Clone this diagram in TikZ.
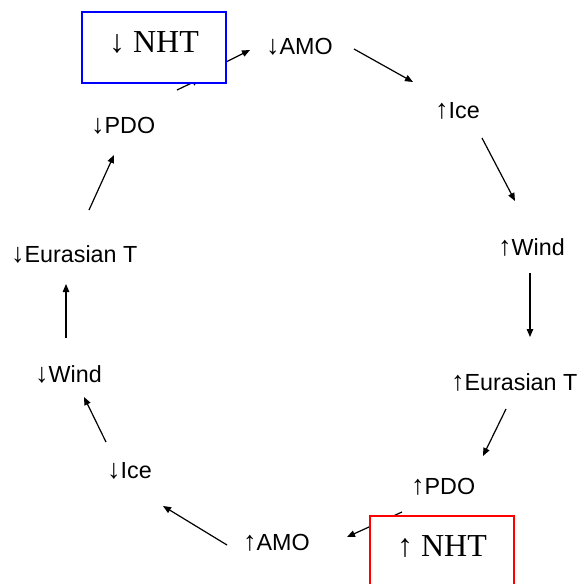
\documentclass[tikz,border=0pt]{standalone}
\usepackage{fontspec}
\setmainfont{Liberation Sans}
\newfontfamily\boxfont{Liberation Serif}
\newcommand\arrdn{{\boxfont\fontsize{27}{27}\selectfont ↓}}
\newcommand\arrup{{\boxfont\fontsize{27}{27}\selectfont ↑}}
\usetikzlibrary{arrows.meta}
\begin{document}
\begin{tikzpicture}[x=1pt,y=-1pt,
  lbl/.style={anchor=base west,inner sep=0pt,font=\fontsize{23.3}{27}\selectfont},
  flow/.style={line width=1.2pt,-{Triangle[length=8pt,width=6.5pt]}},
  statebox/.style={draw,line width=2pt,fill=white,minimum width=144pt,
    inner sep=0pt,text height=40pt,text depth=31pt,
    font=\boxfont\fontsize{32}{36}\selectfont}]
\useasboundingbox (0,0) rectangle (578,584);
\clip (0,0) rectangle (578,584);

% cycle labels
\node[lbl] (amoD)  at (266,54)  {\arrdn AMO};
\node[lbl] (iceU)  at (435,118) {\arrup Ice};
\node[lbl] (windU) at (498,255) {\arrup Wind};
\node[lbl] (eurU)  at (451,390) {\arrup Eurasian T};
\node[lbl] (pdoU)  at (411,494) {\arrup PDO};
\node[lbl] (amoU)  at (243,550) {\arrup AMO};
\node[lbl] (iceD)  at (107,478) {\arrdn Ice};
\node[lbl] (windD) at (35,382)  {\arrdn Wind};
\node[lbl] (eurD)  at (11,262)  {\arrdn Eurasian T};
\node[lbl] (pdoD)  at (91,133)  {\arrdn PDO};

% connector end points
\coordinate (c1a) at (226,62);  \coordinate (c1b) at (250,50);
\coordinate (c2a) at (354,49);  \coordinate (c2b) at (413,82);
\coordinate (c3a) at (482,138); \coordinate (c3b) at (515,201);
\coordinate (c4a) at (530,273); \coordinate (c4b) at (530,337);
\coordinate (c5a) at (506,409); \coordinate (c5b) at (483,456);
\coordinate (c6a) at (402,512); \coordinate (c6b) at (347,537);
\coordinate (c7a) at (227,545); \coordinate (c7b) at (163,506);
\coordinate (c8a) at (106,442); \coordinate (c8b) at (84,397);
\coordinate (c9a) at (66,338);  \coordinate (c9b) at (66,284);
\coordinate (c10a) at (89,210); \coordinate (c10b) at (114,155);
\coordinate (c11a) at (177,90); \coordinate (c11b) at (200,79);

\draw[flow] (c1a) -- (c1b);
\draw[flow] (c2a) -- (c2b);
\draw[flow] (c3a) -- (c3b);
\draw[flow] (c4a) -- (c4b);
\draw[flow] (c5a) -- (c5b);
\draw[flow] (c6a) -- (c6b);
\draw[flow] (c7a) -- (c7b);
\draw[flow] (c8a) -- (c8b);
\draw[flow] (c9a) -- (c9b);
\draw[flow] (c10a) -- (c10b);
\draw[flow] (c11a) -- (c11b);

% NHT state boxes, drawn over the connector ends
\node[statebox,draw=blue] (nhtD) at (154,47.5)  {↓ NHT};
\node[statebox,draw=red]  (nhtU) at (442,551.5) {↑ NHT};
\end{tikzpicture}
\end{document}
